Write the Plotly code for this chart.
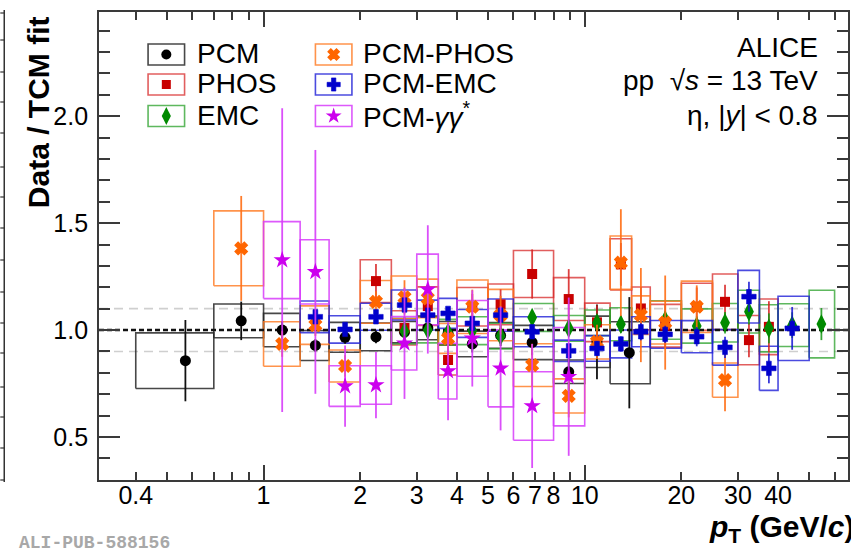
import plotly.graph_objects as go

# ---------------------------------------------------------------------------
# eta meson: ratio of the measured spectra to the TCM fit, pp at 13 TeV
# per method: bin centre, bin edges, ratio, stat. error, syst. error
# ---------------------------------------------------------------------------
pcm_pt   = [0.571, 0.852, 1.143, 1.450, 1.794, 2.239, 2.747, 3.247, 3.754, 4.467, 5.472, 6.861, 8.918, 10.92, 13.77]
pcm_lo   = [0.4, 0.7, 1.0, 1.3, 1.6, 2.0, 2.5, 3.0, 3.5, 4.0, 5.0, 6.0, 8.0, 10.0, 12.0]
pcm_hi   = [0.7, 1.0, 1.3, 1.6, 2.0, 2.5, 3.0, 3.5, 4.0, 5.0, 6.0, 8.0, 10.0, 12.0, 16.0]
pcm_val  = [0.857, 1.043, 1.000, 0.928, 0.966, 0.968, 0.990, 1.010, 0.985, 0.935, 0.975, 0.942, 0.805, 0.945, 0.894]
pcm_stat = [0.19, 0.09, 0.04, 0.03, 0.03, 0.03, 0.03, 0.03, 0.03, 0.04, 0.05, 0.06, 0.09, 0.175, 0.26]
pcm_sys  = [0.13, 0.079, 0.078, 0.07, 0.07, 0.065, 0.05, 0.055, 0.055, 0.06, 0.06, 0.08, 0.055, 0.12, 0.145]

phos_pt   = [2.239, 2.747, 3.247, 3.754, 4.467, 5.472, 6.861, 8.918, 10.92, 12.96, 14.96, 17.81, 22.33, 27.35, 32.47, 37.46]
phos_lo   = [2.0, 2.5, 3.0, 3.5, 4.0, 5.0, 6.0, 8.0, 10.0, 12.0, 14.0, 16.0, 20.0, 25.0, 30.0, 35.0]
phos_hi   = [2.5, 3.0, 3.5, 4.0, 5.0, 6.0, 8.0, 10.0, 12.0, 14.0, 16.0, 20.0, 25.0, 30.0, 35.0, 40.0]
phos_val  = [1.229, 1.010, 1.112, 0.860, 1.109, 1.120, 1.262, 1.145, 1.036, 1.307, 1.101, 1.020, 1.109, 1.132, 0.953, 1.015]
phos_stat = [0.08, 0.05, 0.07, 0.06, 0.06, 0.07, 0.115, 0.14, 0.08, 0.10, 0.10, 0.10, 0.09, 0.08, 0.08, 0.12]
phos_sys  = [0.10, 0.08, 0.09, 0.07, 0.09, 0.095, 0.11, 0.10, 0.09, 0.12, 0.10, 0.10, 0.11, 0.13, 0.115, 0.13]

emc_pt   = [2.747, 3.247, 3.754, 4.467, 5.472, 6.861, 8.918, 10.92, 12.96, 17.81, 22.33, 27.35, 32.47, 37.46, 44.26, 54.58]
emc_lo   = [2.5, 3.0, 3.5, 4.0, 5.0, 6.0, 8.0, 10.0, 12.0, 16.0, 20.0, 25.0, 30.0, 35.0, 40.0, 50.0]
emc_hi   = [3.0, 3.5, 4.0, 5.0, 6.0, 8.0, 10.0, 12.0, 14.0, 20.0, 25.0, 30.0, 35.0, 40.0, 50.0, 60.0]
emc_val  = [0.995, 1.000, 0.990, 0.997, 0.972, 1.059, 1.008, 1.034, 1.027, 1.047, 1.019, 1.034, 1.086, 1.008, 1.023, 1.028]
emc_stat = [0.02, 0.02, 0.02, 0.02, 0.025, 0.03, 0.03, 0.035, 0.04, 0.04, 0.045, 0.05, 0.06, 0.07, 0.06, 0.075]
emc_sys  = [0.06, 0.06, 0.06, 0.065, 0.06, 0.065, 0.06, 0.06, 0.077, 0.09, 0.08, 0.09, 0.10, 0.11, 0.10, 0.158]

pcmphos_pt   = [0.852, 1.143, 1.450, 1.794, 2.239, 2.747, 3.247, 3.754, 4.467, 5.472, 6.861, 8.918, 10.92, 12.96, 14.96, 17.81, 22.33, 27.35]
pcmphos_lo   = [0.7, 1.0, 1.3, 1.6, 2.0, 2.5, 3.0, 3.5, 4.0, 5.0, 6.0, 8.0, 10.0, 12.0, 14.0, 16.0, 20.0, 25.0]
pcmphos_hi   = [1.0, 1.3, 1.6, 2.0, 2.5, 3.0, 3.5, 4.0, 5.0, 6.0, 8.0, 10.0, 12.0, 14.0, 16.0, 20.0, 25.0, 30.0]
pcmphos_val  = [1.382, 0.935, 1.023, 0.832, 1.132, 1.153, 1.148, 0.961, 1.109, 1.070, 0.836, 0.692, 0.945, 1.315, 1.070, 1.035, 1.109, 0.766]
pcmphos_stat = [0.245, 0.06, 0.05, 0.05, 0.05, 0.08, 0.06, 0.06, 0.08, 0.09, 0.10, 0.10, 0.08, 0.25, 0.22, 0.22, 0.10, 0.145]
pcmphos_sys  = [0.175, 0.104, 0.09, 0.075, 0.10, 0.10, 0.09, 0.07, 0.125, 0.12, 0.10, 0.08, 0.08, 0.125, 0.09, 0.10, 0.12, 0.08]

pcmemc_pt   = [1.450, 1.794, 2.239, 2.747, 3.247, 3.754, 4.467, 5.472, 6.861, 8.918, 10.92, 12.96, 14.96, 17.81, 22.33, 27.35, 32.47, 37.46, 44.26]
pcmemc_lo   = [1.3, 1.6, 2.0, 2.5, 3.0, 3.5, 4.0, 5.0, 6.0, 8.0, 10.0, 12.0, 14.0, 16.0, 20.0, 25.0, 30.0, 35.0, 40.0]
pcmemc_hi   = [1.6, 2.0, 2.5, 3.0, 3.5, 4.0, 5.0, 6.0, 8.0, 10.0, 12.0, 14.0, 16.0, 20.0, 25.0, 30.0, 35.0, 40.0, 50.0]
pcmemc_val  = [1.062, 1.003, 1.062, 1.117, 1.070, 1.078, 1.031, 1.070, 0.992, 0.903, 0.914, 0.935, 0.992, 0.980, 0.969, 0.919, 1.156, 0.821, 1.008]
pcmemc_stat = [0.02, 0.02, 0.02, 0.02, 0.02, 0.02, 0.02, 0.025, 0.025, 0.03, 0.035, 0.035, 0.04, 0.04, 0.045, 0.05, 0.07, 0.07, 0.10]
pcmemc_sys  = [0.074, 0.064, 0.063, 0.07, 0.07, 0.07, 0.065, 0.075, 0.07, 0.05, 0.06, 0.065, 0.07, 0.065, 0.075, 0.083, 0.123, 0.103, 0.15]

dalitz_pt   = [1.143, 1.450, 1.794, 2.239, 2.747, 3.247, 3.754, 4.467, 5.472, 6.861, 8.918]
dalitz_lo   = [1.0, 1.3, 1.6, 2.0, 2.5, 3.0, 3.5, 4.0, 5.0, 6.0, 8.0]
dalitz_hi   = [1.3, 1.6, 2.0, 2.5, 3.0, 3.5, 4.0, 5.0, 6.0, 8.0, 10.0]
dalitz_val  = [1.327, 1.272, 0.738, 0.743, 0.938, 1.190, 0.808, 0.961, 0.821, 0.645, 0.782]
dalitz_stat = [0.71, 0.57, 0.19, 0.155, 0.26, 0.30, 0.23, 0.225, 0.29, 0.29, 0.37]
dalitz_sys  = [0.18, 0.15, 0.095, 0.09, 0.125, 0.165, 0.13, 0.177, 0.18, 0.16, 0.23]

x_tick_vals = [0.4, 1, 2, 3, 4, 5, 6, 7, 8, 10, 20, 30, 40]
x_tick_text = ["0.4", "1", "2", "3", "4", "5", "6", "7", "8", "10", "20", "30", "40"]
x_minor_vals = [0.5, 0.6, 0.7, 0.8, 0.9, 9, 50, 60]
x_decade_vals = [1, 10]
y_tick_vals = [0.5, 1.0, 1.5, 2.0]
y_tick_text = ["0.5", "1.0", "1.5", "2.0"]
ref_level = 1.0
band_levels = [0.9, 1.1]

# ---------------------------------------------------------------------------
# canvas geometry
# ---------------------------------------------------------------------------
W, H = 851, 552
ML, MR, MT, MB = 99, 1, 12, 72
X_RANGE = [-0.5124, 1.8199]          # log10(pT)
Y_RANGE = [0.299, 2.487]
FONT = "Liberation Sans, Arial, Helvetica, sans-serif"
FRAME = "#3a3a3a"


def pxx(p):
    return (p - ML) / (W - ML - MR)


def pxy(p):
    return (H - MB - p) / (H - MT - MB)


series = [
    dict(name="PCM", pt=pcm_pt, lo=pcm_lo, hi=pcm_hi, val=pcm_val, stat=pcm_stat, sys=pcm_sys,
         mc="#000000", lc="rgba(40,40,40,0.85)", ec="#111111", sym="circle", size=11, ow=0),
    dict(name="PHOS", pt=phos_pt, lo=phos_lo, hi=phos_hi, val=phos_val, stat=phos_stat, sys=phos_sys,
         mc="#c80000", lc="rgba(215,40,40,0.75)", ec="rgba(215,30,30,0.85)", sym="square", size=10, ow=0),
    dict(name="EMC", pt=emc_pt, lo=emc_lo, hi=emc_hi, val=emc_val, stat=emc_stat, sys=emc_sys,
         mc="#008a00", lc="rgba(40,160,40,0.75)", ec="rgba(20,150,20,0.85)", sym="diamond-tall", size=14, ow=0),
    dict(name="PCM-PHOS", pt=pcmphos_pt, lo=pcmphos_lo, hi=pcmphos_hi, val=pcmphos_val, stat=pcmphos_stat, sys=pcmphos_sys,
         mc="#ff6600", lc="rgba(255,120,30,0.8)", ec="rgba(255,110,20,0.9)", sym="x", size=11, ow=1.2),
    dict(name="PCM-EMC", pt=pcmemc_pt, lo=pcmemc_lo, hi=pcmemc_hi, val=pcmemc_val, stat=pcmemc_stat, sys=pcmemc_sys,
         mc="#0000cc", lc="rgba(30,30,215,0.8)", ec="rgba(20,20,210,0.85)", sym="cross", size=12, ow=0.6),
    dict(name="PCM-γγ*", pt=dalitz_pt, lo=dalitz_lo, hi=dalitz_hi, val=dalitz_val, stat=dalitz_stat, sys=dalitz_sys,
         mc="#cc00ee", lc="rgba(215,60,250,0.85)", ec="rgba(215,60,250,0.9)", sym="star", size=13, ow=0),
]

fig = go.Figure()

# systematic-uncertainty boxes (open rectangles spanning the pT bin)
for s in series:
    bx, by = [], []
    for a, b, v, e in zip(s["lo"], s["hi"], s["val"], s["sys"]):
        bx += [a, b, b, a, a, None]
        by += [v - e, v - e, v + e, v + e, v - e, None]
    fig.add_trace(go.Scatter(x=bx, y=by, mode="lines", line=dict(color=s["lc"], width=1.6),
                             hoverinfo="skip", showlegend=False))

# unity reference line
fig.add_trace(go.Scatter(x=[10 ** X_RANGE[0], 10 ** X_RANGE[1]], y=[ref_level, ref_level], mode="lines",
                         line=dict(color="#111111", width=2.6, dash="5px,3px"),
                         hoverinfo="skip", showlegend=False))

# data points with statistical error bars
for s in series:
    fig.add_trace(go.Scatter(
        x=s["pt"], y=s["val"], mode="markers", name=s["name"],
        marker=dict(symbol=s["sym"], size=s["size"], color=s["mc"], line=dict(width=s["ow"], color=s["mc"])),
        error_y=dict(type="data", array=s["stat"], visible=True, thickness=1.8, width=0, color=s["ec"]),
        hoverinfo="skip", showlegend=False))

# overlay axis carrying the longer decade ticks
fig.add_trace(go.Scatter(x=[], y=[], xaxis="x2", yaxis="y", hoverinfo="skip", showlegend=False))

# ---------------------------------------------------------------------------
# hand-built two-column legend (marker inside an open box)
# ---------------------------------------------------------------------------
leg_cols = [166.5, 334.3]
leg_rows = [54.5, 84.5, 116.0]
leg_text_x = [195, 361.5]
leg_pos = [(0, 0), (0, 1), (0, 2), (1, 0), (1, 1), (1, 2)]
leg_labels = ["PCM", "PHOS", "EMC", "PCM-PHOS", "PCM-EMC", "PCM-<i>γγ</i><sup>*</sup>"]

shapes = []
annotations = []
for s, (c, r), lab in zip(series, leg_pos, leg_labels):
    cx, cy = leg_cols[c], leg_rows[r]
    shapes.append(dict(type="rect", xref="paper", yref="paper",
                       x0=pxx(cx - 18.3), x1=pxx(cx + 18.3), y0=pxy(cy + 10.5), y1=pxy(cy - 10.5),
                       line=dict(color=s["lc"], width=1.6), fillcolor="rgba(0,0,0,0)", layer="above"))
    annotations.append(dict(text=lab, xref="paper", yref="paper", x=pxx(leg_text_x[c]), y=pxy(cy - 1),
                            xanchor="left", yanchor="middle", showarrow=False,
                            font=dict(family=FONT, size=28, color="black")))
    fig.add_trace(go.Scatter(x=[cx], y=[cy], xaxis="x3", yaxis="y3", mode="markers",
                             marker=dict(symbol=s["sym"], size=s["size"] - 1, color=s["mc"],
                                         line=dict(width=s["ow"], color=s["mc"])),
                             hoverinfo="skip", showlegend=False))

# dashed +-10% band
for lvl in band_levels:
    shapes.append(dict(type="line", xref="paper", yref="y", x0=0, x1=1, y0=lvl, y1=lvl,
                       line=dict(color="#cfcfcf", width=1.6, dash="9px,6px"), layer="below"))

# edge of the neighbouring panel on the far left
shapes.append(dict(type="line", xref="paper", yref="paper", x0=pxx(4), x1=pxx(4), y0=pxy(10), y1=pxy(482),
                   line=dict(color="#333333", width=1.5)))
for ty in [13, 40, 72, 102, 133, 167, 197, 228, 260, 292, 323, 353, 387, 417, 448, 480]:
    shapes.append(dict(type="line", xref="paper", yref="paper", x0=pxx(0), x1=pxx(4), y0=pxy(ty), y1=pxy(ty),
                       line=dict(color="#333333", width=1.2)))

# system / selection labels
for txt, yy in [("ALICE", 48), ("pp  √<i>s</i> = 13 TeV", 80), ("η, |<i>y</i>| < 0.8", 115)]:
    annotations.append(dict(text=txt, xref="paper", yref="paper", x=pxx(822), y=pxy(yy),
                            xanchor="right", yanchor="middle", showarrow=False,
                            font=dict(family=FONT, size=28, color="black")))

# axis titles
annotations.append(dict(text="<b>Data / TCM fit</b>", xref="paper", yref="paper", x=pxx(38), y=pxy(112),
                        xanchor="center", yanchor="middle", textangle=-90, showarrow=False,
                        font=dict(family=FONT, size=30, color="black")))
annotations.append(dict(text="<b><i>p</i><sub>T</sub> (GeV/<i>c</i>)</b>", xref="paper", yref="paper",
                        x=pxx(859), y=pxy(528), xanchor="right", yanchor="middle", showarrow=False,
                        font=dict(family=FONT, size=30, color="black")))
annotations.append(dict(text="<b>ALI-PUB-588156</b>", xref="paper", yref="paper", x=pxx(17), y=pxy(543),
                        xanchor="left", yanchor="middle", showarrow=False,
                        font=dict(family="Liberation Mono, Courier New, monospace", size=18, color="#a8a8a8")))

axis_common = dict(showgrid=False, zeroline=False, ticks="inside", tickcolor=FRAME, tickwidth=1.5,
                   showline=True, linecolor=FRAME, linewidth=1.8, mirror="ticks")

fig.update_layout(
    width=W, height=H, margin=dict(l=ML, r=MR, t=MT, b=MB, pad=0),
    plot_bgcolor="white", paper_bgcolor="white", showlegend=False, hovermode=False,
    font=dict(family=FONT, size=25, color="black"),
    xaxis=dict(type="log", range=X_RANGE, tickmode="array", tickvals=x_tick_vals, ticktext=x_tick_text,
               ticklen=8, tickfont=dict(size=25), ticklabelstandoff=-8,
               minor=dict(tickmode="array", tickvals=x_minor_vals, ticklen=8, ticks="inside",
                          tickcolor=FRAME, tickwidth=1.5),
               **axis_common),
    xaxis2=dict(type="log", range=X_RANGE, overlaying="x", anchor="y", side="bottom", tickmode="array",
                tickvals=x_decade_vals, showticklabels=False, ticklen=15,
                **axis_common),
    yaxis=dict(range=Y_RANGE, tickmode="array", tickvals=y_tick_vals, ticktext=y_tick_text,
               ticklen=21, tickfont=dict(size=25), ticklabelstandoff=4,
               minor=dict(dtick=0.1, tick0=0, ticklen=11, ticks="inside", tickcolor=FRAME, tickwidth=1.5),
               **axis_common),
    xaxis3=dict(range=[ML, W - MR], overlaying="x", anchor="y3", visible=False),
    yaxis3=dict(range=[H - MB, MT], overlaying="y", anchor="x3", visible=False),
    shapes=shapes, annotations=annotations,
)

fig.write_html("out.html")
